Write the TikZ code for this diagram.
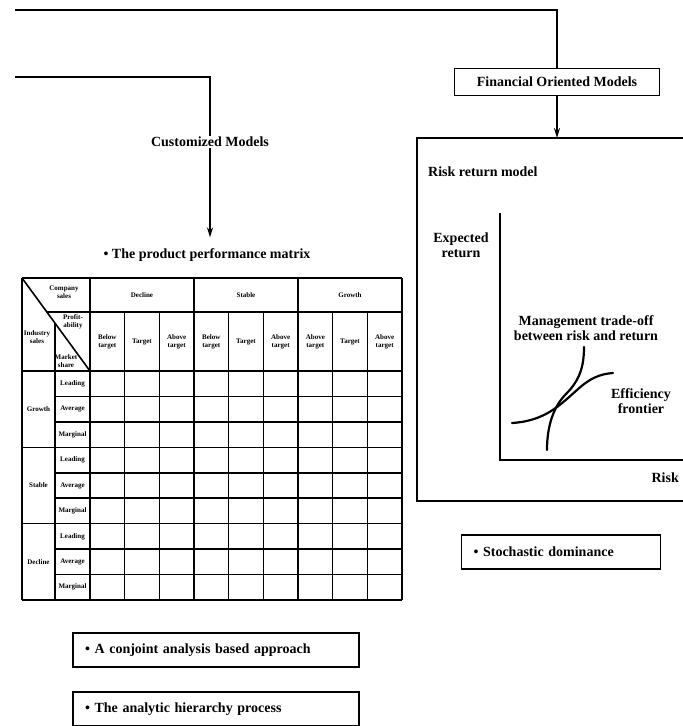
\documentclass[tikz,border=0pt]{standalone}
\usepackage{fontspec}
\setmainfont{Liberation Serif}
\usetikzlibrary{arrows.meta,positioning}
\tikzset{
  lbl/.style={font=\fontsize{14}{15.5}\selectfont\bfseries, align=center, inner sep=1pt},
  cell/.style={font=\fontsize{7}{7.5}\selectfont\bfseries, align=center, inner sep=0pt},
  itembox/.style={draw, line width=1.1pt, lbl, align=left, text width=#1, inner xsep=12pt, minimum height=34pt},
  conn/.style={line width=1.7pt},
  arr/.style={conn, -{Stealth[length=10pt,width=6pt]}},
  grid/.style={line width=1.6pt},
  curve/.style={line width=2.2pt, line cap=round}
}
\begin{document}
\begin{tikzpicture}[x=1pt,y=-1pt]
\useasboundingbox (0,0) rectangle (683,726);
% top connectors
\coordinate (fromA) at (15,10);
\coordinate (fromB) at (15,77);
\node[draw, lbl, line width=1.2pt, minimum width=205pt, minimum height=27pt] (fin) at (557,82) {Financial Oriented Models};
\draw[conn] (fromA) -| (fin.north);
\node[lbl] (cust) at (210,142) {Customized Models};
\draw[conn] (fromB) -| (cust.north);
\node[lbl] (title) at (207,255) {\textbullet\ The product performance matrix};
\draw[arr, shorten >=10pt] (cust.south) -- (cust.south |- title.north);
% risk return panel
\coordinate (paneltop) at (557,138);
\draw[line width=1.2pt] (683,138) -- (417,138) -- (417,501) -- (683,501);
\draw[arr] (fin.south) -- (paneltop);
\node[lbl, anchor=west] (rrm) at (427,172) {Risk return model};
\node[lbl] (expret) at (461,245) {Expected\\return};
\coordinate (ytop) at (500,213);
\coordinate (orig) at (500,460);
\coordinate (xend) at (683,460);
\draw[line width=1.5pt] (ytop) -- (orig) -- (xend);
\node[lbl, anchor=east] (risk) at (680,478) {Risk};
\node[lbl] (mgmt) at (586,328) {Management trade-off\\between risk and return};
\node[lbl] (eff) at (641,401) {Efficiency\\frontier};
\draw[curve] (512,423) .. controls (545,421) and (560,405) .. (577,390)
  .. controls (590,378) and (600,374) .. (613,373);
\draw[curve] (547,450) .. controls (547,425) and (554,406) .. (566,394)
  .. controls (580,380) and (584,366) .. (584,347);
\node[itembox=175pt] (stoch) at (561,552) {\textbullet\ Stochastic dominance};
% lower boxes
\node[itembox=262pt] (conj) at (216,650) {\textbullet\ A conjoint analysis based approach};
\node[itembox=262pt] (ahp) at (216,709) {\textbullet\ The analytic hierarchy process};
% product performance matrix
\draw[grid] (22,278) -- (402,278);
\draw[grid] (46.9,312) -- (402,312);
\draw[grid] (22,278) -- (22,600);
\draw[grid] (55,323) -- (55,600);
\draw[grid] (22,278) -- (90,371);
\foreach \i in {0,...,9}{
  \draw[grid] ({90+34.667*\i},312) -- ({90+34.667*\i},600);
}
\foreach \i in {0,3,6,9}{
  \draw[grid] ({90+34.667*\i},278) -- ({90+34.667*\i},312);
  \draw[grid] (22,{371+25.44*\i}) -- (402,{371+25.44*\i});
}
\foreach \i in {1,2,4,5,7,8}{
  \draw[grid] (55,{371+25.44*\i}) -- (402,{371+25.44*\i});
}
\node[cell] (csales) at (64,292) {Company\\sales};
\node[cell] (isales) at (37,337) {Industry\\sales};
\node[cell] (profit) at (73,322) {Profit-\\ability};
\node[cell] (mshare) at (66,361) {Market\\share};
\foreach \g/\name in {0/Decline,1/Stable,2/Growth}{
  \node[cell] (grp\g) at ({90+34.667*(3*\g+1.5)},295) {\name};
}
\foreach \c/\txt in {0/{Below\\target},1/Target,2/{Above\\target},3/{Below\\target},4/Target,5/{Above\\target},6/{Above\\target},7/Target,8/{Above\\target}}{
  \node[cell] (sub\c) at ({90+34.667*(\c+0.5)},342) {\txt};
}
\foreach \r/\name in {0/Growth,1/Stable,2/Decline}{
  \node[cell] (rgrp\r) at (38.5,{371+25.44*(3*\r+1.5)}) {\name};
  \foreach \s/\share in {0/Leading,1/Average,2/Marginal}{
    \node[cell] (row\r\s) at (72.5,{371+25.44*(3*\r+\s+0.5)}) {\share};
  }
}
\end{tikzpicture}
\end{document}
